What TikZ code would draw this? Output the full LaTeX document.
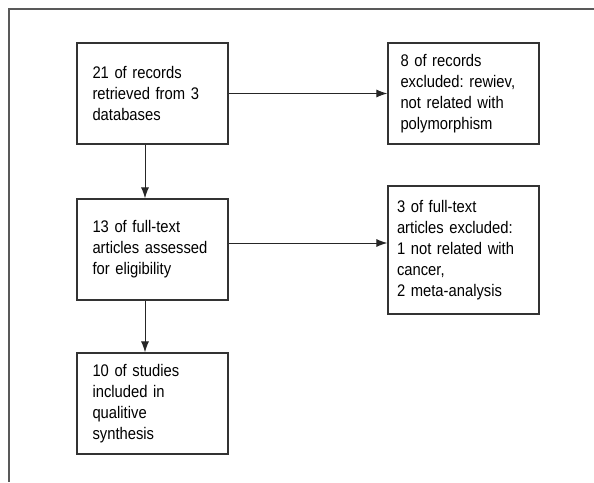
\documentclass[tikz,border=0pt]{standalone}
\usepackage{fontspec}
\setmainfont[FakeStretch=0.88]{Liberation Sans}
\usetikzlibrary{arrows.meta}

\tikzset{
  box/.style={draw=black!80, line width=1.2pt, align=left, inner ysep=0pt,
              font=\fontsize{16.8}{21}\selectfont},
  arr/.style={-{Latex[length=11pt,width=8pt]}, line width=1pt, black!85}
}

\begin{document}
\frenchspacing
\begin{tikzpicture}[x=1pt,y=-1pt]
      \useasboundingbox (0,0) rectangle (594,482);
      % outer frame
      \draw [line width=1.3pt, black!65] (594,9) -- (9,9) -- (9,482);
      % boxes
      \node [box, inner xsep=15.5pt, text width=120pt, minimum height=101pt] (records) at (152.5,93.5)
            {21 of records\\retrieved from 3\\databases};
      \node [box, inner xsep=12.5pt, text width=126pt, minimum height=101pt] (excl1) at (463.5,93.5)
            {8 of records\\excluded: rewiev,\\not related with\\polymorphism};
      \node [box, inner xsep=15.5pt, text width=120pt, minimum height=101pt] (fulltext) at (152.5,249.5)
            {13 of full-text\\articles assessed\\for eligibility};
      \node [box, inner xsep=9pt, text width=133pt, minimum height=128pt] (excl2) at (463.5,250)
            {3 of full-text\\articles excluded:\\1 not related with\\cancer,\\2 meta-analysis};
      \node [box, inner xsep=15.5pt, text width=120pt, minimum height=101pt] (studies) at (152.5,403.5)
            {10 of studies\\included in\\qualitive\\synthesis};
      % arrows
      \draw [arr] ([xshift=-7.5pt]records.south) -- ([xshift=-7.5pt]fulltext.north);
      \draw [arr] ([xshift=-7.5pt]fulltext.south) -- ([xshift=-7.5pt]studies.north);
      \draw [arr] (records.east) -- (excl1.west);
      \draw [arr] ([yshift=6.5pt]fulltext.east) -- ([yshift=6.5pt]fulltext.east -| excl2.west);
\end{tikzpicture}
\end{document}
